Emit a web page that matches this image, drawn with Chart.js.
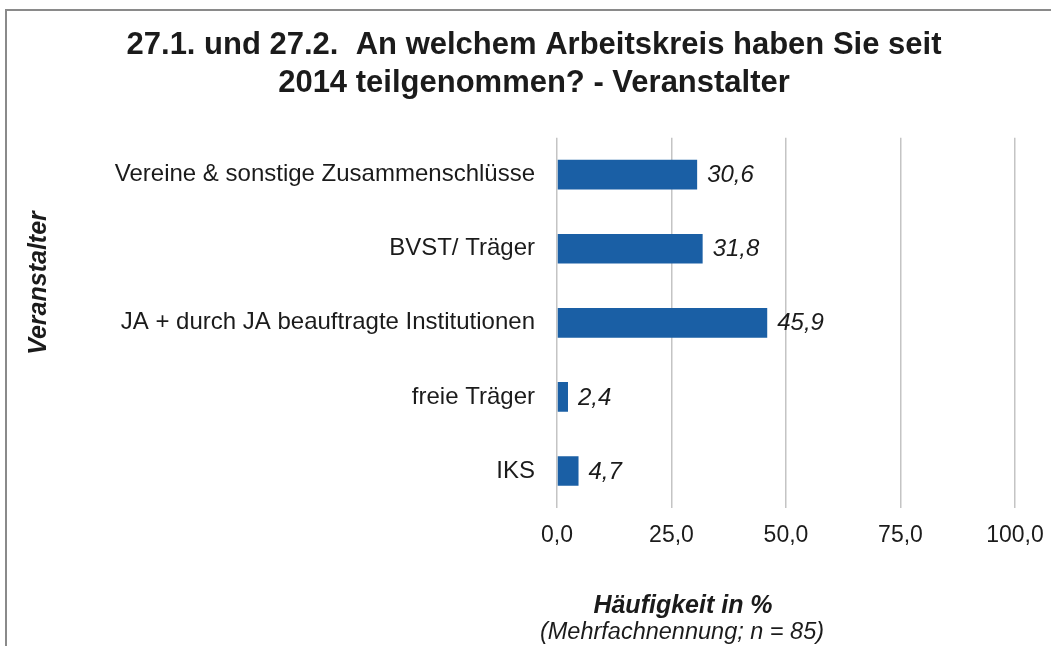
<!DOCTYPE html>
<html lang="de">
<head>
<meta charset="utf-8">
<title>Veranstalter</title>
<script src="https://cdn.jsdelivr.net/npm/chart.js@4/dist/chart.umd.min.js"></script>
<style>
    html, body { margin: 0; padding: 0; background: #fff; overflow: hidden; }
    #box { position: absolute; left: 0; top: 0; width: 1051px; height: 646px; }
    #frame {
        position: absolute; left: 5px; top: 9px; right: 0; bottom: -10px;
        border-left: 2px solid #8a8a8a; border-top: 2px solid #8a8a8a;
        pointer-events: none;
    }
</style>
</head>
<body>
<div id="box"><canvas id="chart"></canvas></div>
<div id="frame"></div>
<script>
// Kategorien und Werte (Häufigkeit in %)
const categories = [
    'Vereine & sonstige Zusammenschlüsse',
    'BVST/ Träger',
    'JA + durch JA beauftragte Institutionen',
    'freie Träger',
    'IKS'
];
const values = [30.6, 31.8, 45.9, 2.4, 4.7];
const xTicks = [0, 25, 50, 75, 100];

const titleLines = [
    '27.1. und 27.2.  An welchem Arbeitskreis haben Sie seit',
    '2014 teilgenommen? - Veranstalter'
];
const yAxisTitle = 'Veranstalter';
const xAxisTitle = 'Häufigkeit in %';
const xAxisNote = '(Mehrfachnennung; n = 85)';

const FONT = '"Liberation Sans", Arial, sans-serif';
const TEXT = '#1b1b1b';
const BAR = '#1a5fa5';

const fmt = v => v.toFixed(1).replace('.', ',');

Chart.defaults.font.family = FONT;
Chart.defaults.color = TEXT;

// Werte rechts neben den Balken
const valueLabels = {
    id: 'valueLabels',
    afterDatasetsDraw(chart) {
        const ctx = chart.ctx;
        const meta = chart.getDatasetMeta(0);
        ctx.save();
        ctx.font = `italic 24px ${FONT}`;
        ctx.fillStyle = TEXT;
        ctx.textAlign = 'left';
        ctx.textBaseline = 'middle';
        meta.data.forEach((bar, i) => {
            ctx.fillText(fmt(values[i]), bar.x + 10, bar.y + 1);
        });
        ctx.restore();
    }
};

// Achsentitel (links gedreht, unten zweizeilig)
const axisCaptions = {
    id: 'axisCaptions',
    afterDraw(chart) {
        const ctx = chart.ctx;
        ctx.save();
        ctx.fillStyle = TEXT;
        ctx.textAlign = 'center';
        ctx.textBaseline = 'middle';

        ctx.save();
        ctx.translate(39, 283);
        ctx.rotate(-Math.PI / 2);
        ctx.font = `italic bold 25px ${FONT}`;
        ctx.fillText(yAxisTitle, 0, 0);
        ctx.restore();

        ctx.font = `italic bold 25px ${FONT}`;
        ctx.fillText(xAxisTitle, 683, 606);
        ctx.font = `italic 23.5px ${FONT}`;
        ctx.fillText(xAxisNote, 682, 632);
        ctx.restore();
    }
};

new Chart(document.getElementById('chart'), {
    type: 'bar',
    data: {
        labels: categories,
        datasets: [{
            data: values,
            backgroundColor: BAR,
            borderWidth: 0,
            barPercentage: 0.4,
            categoryPercentage: 1
        }]
    },
    options: {
        indexAxis: 'y',
        responsive: true,
        maintainAspectRatio: false,
        animation: false,
        events: [],
        layout: { padding: { left: 17, right: 0, top: 0, bottom: 93 } },
        plugins: {
            legend: { display: false },
            tooltip: { enabled: false },
            title: {
                display: true,
                text: titleLines,
                color: TEXT,
                font: { size: 31, weight: 'bold', lineHeight: 1.22 },
                padding: { top: 27, bottom: 35 }
            }
        },
        scales: {
            x: {
                min: 0,
                max: 100,
                afterBuildTicks: axis => {
                    axis.ticks = xTicks.map(v => ({ value: v }));
                },
                afterFit: axis => {
                    axis.height = 45;
                    axis.paddingRight = 36;
                },
                grid: { color: '#c4c4c4', lineWidth: 1.5, drawTicks: false },
                border: { display: false },
                ticks: {
                    padding: 14,
                    color: TEXT,
                    font: { size: 23 },
                    callback: v => fmt(v)
                }
            },
            y: {
                afterFit: axis => { axis.width = 540; },
                grid: { display: false, drawTicks: false },
                border: { display: false },
                ticks: {
                    padding: 22,
                    color: TEXT,
                    font: { size: 24 }
                }
            }
        }
    },
    plugins: [valueLabels, axisCaptions]
});
</script>
</body>
</html>
